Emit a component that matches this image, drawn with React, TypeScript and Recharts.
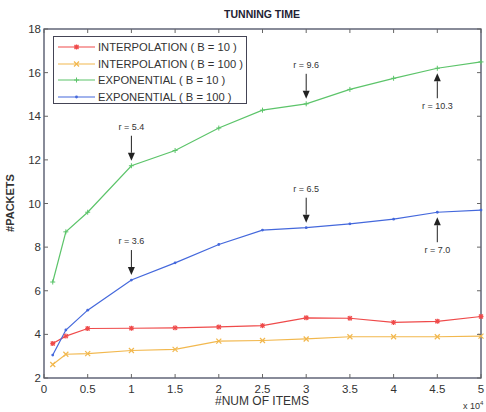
import React from "react";
import { LineChart, Line, XAxis, YAxis, ReferenceDot } from "recharts";

const items = [0.1, 0.25, 0.5, 1, 1.5, 2, 2.5, 3, 3.5, 4, 4.5, 5];
const interp10 = [3.58, 3.92, 4.27, 4.28, 4.3, 4.34, 4.4, 4.76, 4.74, 4.55, 4.6, 4.82];
const interp100 = [2.62, 3.09, 3.12, 3.26, 3.31, 3.69, 3.72, 3.79, 3.89, 3.89, 3.89, 3.92];
const expo10 = [6.4, 8.7, 9.6, 11.73, 12.43, 13.46, 14.28, 14.57, 15.23, 15.74, 16.2, 16.49];
const expo100 = [3.05, 4.2, 5.11, 6.49, 7.28, 8.12, 8.78, 8.89, 9.07, 9.28, 9.6, 9.7];

const xTicks = [0, 0.5, 1, 1.5, 2, 2.5, 3, 3.5, 4, 4.5, 5];
const yTicks = [2, 4, 6, 8, 10, 12, 14, 16, 18];

const notes = [
  { x: 1, y: 11.73, label: "r = 5.4", dir: "down" },
  { x: 3, y: 14.57, label: "r = 9.6", dir: "down" },
  { x: 4.5, y: 16.2, label: "r = 10.3", dir: "up" },
  { x: 1, y: 6.49, label: "r = 3.6", dir: "down" },
  { x: 3, y: 8.89, label: "r = 6.5", dir: "down" },
  { x: 4.5, y: 9.6, label: "r = 7.0", dir: "up" },
];

const rows = items.map((x, i) => ({
  x,
  i10: interp10[i],
  i100: interp100[i],
  e10: expo10[i],
  e100: expo100[i],
}));

const series = [
  { key: "i10", name: "INTERPOLATION ( B = 10 )", color: "#ef4a4a", mark: "star" },
  { key: "i100", name: "INTERPOLATION ( B = 100 )", color: "#f2b84e", mark: "x" },
  { key: "e10", name: "EXPONENTIAL ( B = 10 )", color: "#5cc46a", mark: "plus" },
  { key: "e100", name: "EXPONENTIAL ( B = 100 )", color: "#4468dc", mark: "dot" },
];

const TOP = 29;
const BOTTOM = 378;
const LEFT = 44;
const RIGHT = 481;
const FONT = "'Liberation Sans', Arial, sans-serif";

function Marker({ cx, cy, color, mark }: any) {
  if (cx == null || cy == null) return null;
  const s = 2.5;
  if (mark === "dot") return <circle cx={cx} cy={cy} r={1.4} fill={color} />;
  if (mark === "plus")
    return (
      <g stroke={color} strokeWidth={1}>
        <line x1={cx - s} y1={cy} x2={cx + s} y2={cy} />
        <line x1={cx} y1={cy - s} x2={cx} y2={cy + s} />
      </g>
    );
  if (mark === "x")
    return (
      <g stroke={color} strokeWidth={1.2}>
        <line x1={cx - s} y1={cy - s} x2={cx + s} y2={cy + s} />
        <line x1={cx - s} y1={cy + s} x2={cx + s} y2={cy - s} />
      </g>
    );
  return (
    <g stroke={color} strokeWidth={1.2}>
      <line x1={cx - s} y1={cy} x2={cx + s} y2={cy} />
      <line x1={cx} y1={cy - s} x2={cx} y2={cy + s} />
      <line x1={cx - 2} y1={cy - 2} x2={cx + 2} y2={cy + 2} />
      <line x1={cx - 2} y1={cy + 2} x2={cx + 2} y2={cy - 2} />
    </g>
  );
}

function XTick({ x, payload }: any) {
  return (
    <g>
      <line x1={x} y1={BOTTOM} x2={x} y2={BOTTOM - 4} stroke="#666" />
      <line x1={x} y1={TOP} x2={x} y2={TOP + 4} stroke="#666" />
      <text x={x} y={BOTTOM + 15} textAnchor="middle" fontSize={11.5} fill="#333" fontFamily={FONT}>
        {payload.value}
      </text>
    </g>
  );
}

function YTick({ y, payload }: any) {
  return (
    <g>
      <line x1={LEFT} y1={y} x2={LEFT + 4} y2={y} stroke="#666" />
      <line x1={RIGHT} y1={y} x2={RIGHT - 4} y2={y} stroke="#666" />
      <text x={LEFT - 3} y={y + 4} textAnchor="end" fontSize={11.5} fill="#333" fontFamily={FONT}>
        {payload.value}
      </text>
    </g>
  );
}

function Note({ cx, cy, label, dir }: any) {
  const down = dir === "down";
  const tip = down ? cy - 5 : cy + 5;
  const tail = down ? cy - 30 : cy + 30;
  const head = down ? tip - 8 : tip + 8;
  const ty = down ? cy - 36 : cy + 41;
  return (
    <g>
      <line x1={cx} y1={tail} x2={cx} y2={head} stroke="#222" strokeWidth={1} />
      <polygon points={`${cx},${tip} ${cx - 3.5},${head} ${cx + 3.5},${head}`} fill="#222" />
      <text x={cx} y={ty} textAnchor="middle" fontSize={9} fill="#333" fontFamily={FONT}>
        {label}
      </text>
    </g>
  );
}

function LegendBox() {
  return (
    <div
      style={{
        position: "absolute",
        left: 53,
        top: 36,
        width: 194,
        height: 68,
        border: "1px solid #445",
        background: "#fff",
        boxSizing: "border-box",
        paddingTop: 2,
      }}
    >
      {series.map((s) => (
        <div key={s.key} style={{ display: "flex", alignItems: "center", height: 16.5 }}>
          <svg width={44} height={10} style={{ flex: "none" }}>
            <line x1={4} y1={5} x2={41} y2={5} stroke={s.color} strokeWidth={1.2} />
            <Marker cx={22.5} cy={5} color={s.color} mark={s.mark} />
          </svg>
          <span style={{ fontFamily: FONT, fontSize: 11.2, color: "#333", whiteSpace: "nowrap" }}>{s.name}</span>
        </div>
      ))}
    </div>
  );
}

export default function App() {
  return (
    <div style={{ position: "absolute", left: 0, top: 0, width: 486, height: 412, background: "#fff" }}>
      <LineChart
        width={486}
        height={412}
        data={rows}
        margin={{ top: TOP, right: 486 - RIGHT, bottom: 0, left: LEFT - 30 }}
      >
        <XAxis
          dataKey="x"
          type="number"
          domain={[0, 5]}
          ticks={xTicks}
          tick={<XTick />}
          tickLine={false}
          axisLine={false}
          height={412 - BOTTOM}
          interval={0}
        />
        <YAxis
          type="number"
          domain={[2, 18]}
          ticks={yTicks}
          tick={<YTick />}
          tickLine={false}
          axisLine={false}
          width={30}
          interval={0}
        />
        {series.map((s) => (
          <Line
            key={s.key}
            dataKey={s.key}
            name={s.name}
            stroke={s.color}
            strokeWidth={1.2}
            type="linear"
            dot={(p: any) => <Marker key={p.index} cx={p.cx} cy={p.cy} color={s.color} mark={s.mark} />}
            isAnimationActive={false}
          />
        ))}
        {notes.map((n) => (
          <ReferenceDot
            key={n.label}
            x={n.x}
            y={n.y}
            r={0}
            shape={(p: any) => <Note cx={p.cx} cy={p.cy} label={n.label} dir={n.dir} />}
          />
        ))}
        <rect x={LEFT} y={TOP} width={RIGHT - LEFT} height={BOTTOM - TOP} fill="none" stroke="#3a3f55" strokeWidth={1.2} />
        <text x={262} y={18} textAnchor="middle" fontSize={10.5} fontWeight="bold" fill="#223" fontFamily={FONT}>
          TUNNING TIME
        </text>
        <text x={262} y={405} textAnchor="middle" fontSize={12} fill="#333" fontFamily={FONT}>
          #NUM OF ITEMS
        </text>
        <text x={463} y={409} fontSize={9} fill="#333" fontFamily={FONT}>
          x 10
          <tspan dy={-4} fontSize={6}>4</tspan>
        </text>
        <text
          x={14}
          y={203}
          textAnchor="middle"
          fontSize={11}
          fontWeight="bold"
          fill="#333"
          fontFamily={FONT}
          transform="rotate(-90 14 203)"
        >
          #PACKETS
        </text>
      </LineChart>
      <LegendBox />
    </div>
  );
}
